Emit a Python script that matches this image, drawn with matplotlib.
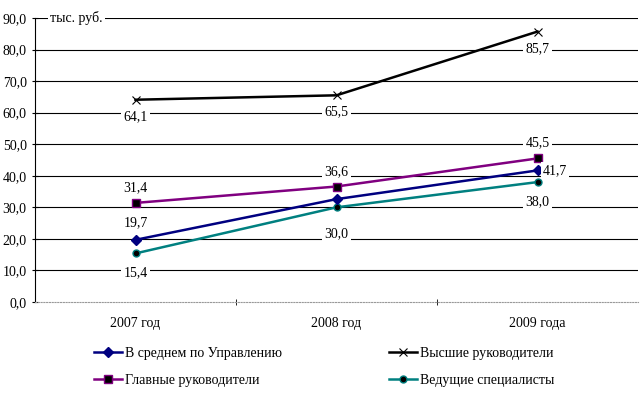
import matplotlib
matplotlib.use("Agg")
import matplotlib.pyplot as plt
from matplotlib.lines import Line2D

plt.rcParams['font.family'] = ['Liberation Serif', 'DejaVu Serif']

categories = ["2007 год", "2008 год", "2009 года"]
avg_mgmt = [19.7, 32.6, 41.7]
top_mgrs = [64.1, 65.5, 85.7]
chief_mgrs = [31.4, 36.6, 45.5]
lead_specs = [15.4, 30.0, 38.0]
yticks = [0, 10, 20, 30, 40, 50, 60, 70, 80, 90]

names = ["В среднем по Управлению", "Высшие руководители",
         "Главные руководители", "Ведущие специалисты"]

fig = plt.figure(figsize=(6.42, 3.96), dpi=100)
W, H = 642, 396
ax = fig.add_axes([35 / W, 1 - 302 / H, (638 - 35) / W, (302 - 18) / H])

x = list(range(len(categories)))
fs = 10

for yv in yticks[1:]:
    ax.axhline(yv, color='black', lw=0.8, zorder=1)

ax.plot(x, top_mgrs, color='black', lw=1.8, marker='x', ms=6, mec='black', mew=0.8, zorder=3)
ax.plot(x, chief_mgrs, color='#800080', lw=1.8, marker='s', ms=6, mfc='black', mec='#800080', mew=1, zorder=3)
ax.plot(x, avg_mgmt, color='#000080', lw=1.8, marker='D', ms=5, mfc='#000080', mec='#000080', zorder=4)
ax.plot(x, lead_specs, color='#008080', lw=1.8, marker='o', ms=5, mfc='black', mec='#008080', mew=1, zorder=3)

def lab(xi, yi, dx, dy, ha='center'):
    ax.annotate(f"{yi:.1f}".replace('.', ','), (xi, yi), xytext=(dx, dy),
                textcoords='offset points', ha=ha, va='center', fontsize=fs,
                bbox=dict(boxstyle='square,pad=0.15', fc='white', ec='none'), zorder=5)

for i, v in enumerate(top_mgrs):
    lab(i, v, 0, -12)
for i, v in enumerate(chief_mgrs):
    lab(i, v, 0, 11)
lab(0, avg_mgmt[0], 0, 12)
lab(2, avg_mgmt[2], 4, 0, ha='left')
for i, v in enumerate(lead_specs):
    lab(i, v, 0, -14 if i != 1 else -19)

ax.set_xlim(-0.5, 2.5)
ax.set_ylim(0, 90)
ax.set_yticks(yticks)
ax.set_yticklabels([f"{v:.1f}".replace('.', ',') for v in yticks], fontsize=fs)
ax.set_xticks(x)
ax.set_xticklabels(categories, fontsize=fs)
ax.set_xticks([0.5, 1.5], minor=True)
ax.tick_params(axis='x', which='major', length=0, pad=11)
ax.tick_params(axis='x', which='minor', length=4, direction='inout', color='black')
ax.tick_params(axis='y', length=4, direction='inout', pad=4)

for s in ['top', 'right']:
    ax.spines[s].set_visible(False)
ax.spines['left'].set_color('black')
ax.spines['bottom'].set_color('#999999')
ax.spines['bottom'].set_linestyle((0, (1, 1.5)))

ax.text(-0.5 + 0.075, 90, "тыс. руб.", fontsize=fs, va='center', ha='left', zorder=5,
        bbox=dict(boxstyle='square,pad=0.15', fc='white', ec='none'))

handles = [
    Line2D([], [], color='#000080', lw=1.8, marker='D', ms=5, mfc='#000080'),
    Line2D([], [], color='black', lw=1.8, marker='x', ms=6, mew=0.8),
    Line2D([], [], color='#800080', lw=1.8, marker='s', ms=6, mfc='black', mec='#800080'),
    Line2D([], [], color='#008080', lw=1.8, marker='o', ms=5, mfc='black', mec='#008080'),
]
leg_kw = dict(loc='upper left', frameon=False, fontsize=fs, handlelength=2.0,
              handletextpad=0.2, labelspacing=1.0, borderaxespad=0, borderpad=0)
l1 = fig.legend([handles[0], handles[2]], [names[0], names[2]],
                bbox_to_anchor=(94 / W, 1 - 347 / H), **leg_kw)
l2 = fig.legend([handles[1], handles[3]], [names[1], names[3]],
                bbox_to_anchor=(389 / W, 1 - 347 / H), **leg_kw)

fig.savefig("out.png", dpi=100)
